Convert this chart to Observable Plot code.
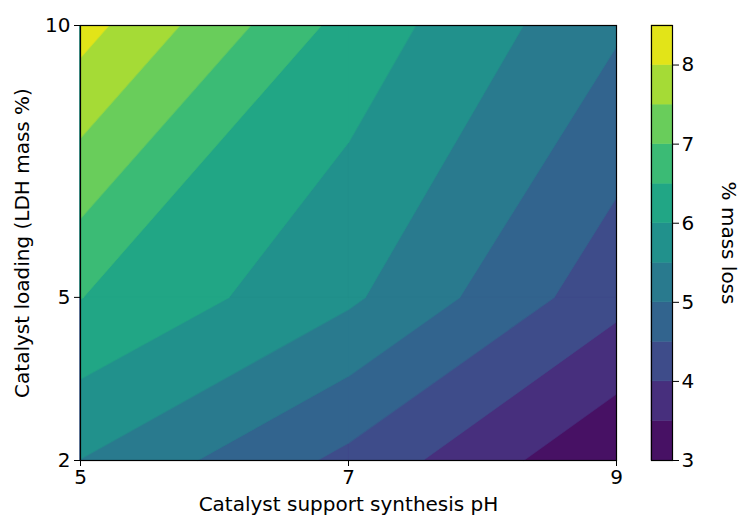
<!DOCTYPE html>
<html>
<head>
<meta charset="utf-8">
<script src="https://cdn.jsdelivr.net/npm/d3@7"></script>
<script src="https://cdn.jsdelivr.net/npm/@observablehq/plot@0.6"></script>
<style>
  html, body { margin: 0; padding: 0; background: #fff; }
  #wrap { display: flex; flex-direction: row; width: 740px; height: 521px; }
  #wrap svg g[aria-label$="tick label"],
  #wrap svg g[aria-label$="tick label"] text { font-size: 20px !important; }
</style>
</head>
<body>
<div id="wrap"></div>
<script>
// ---- data ----
const pH = [5, 7, 9];                 // Catalyst support synthesis pH
const loading = [2, 5, 10];           // Catalyst loading (LDH mass %)
const lossAtLoading2  = [5.49, 4.37, 3.04];
const lossAtLoading5  = [6.51, 5.59, 4.17];
const lossAtLoading10 = [8.20, 6.31, 5.07];
const levels = [3, 3.5, 4, 4.5, 5, 5.5, 6, 6.5, 7, 7.5, 8, 8.5];
const xTicks = [5, 7, 9];
const yTicks = [2, 5, 10];
const cbTicks = [3, 4, 5, 6, 7, 8];
const xLabel = "Catalyst support synthesis pH";
const yLabel = "Catalyst loading (LDH mass %)";
const cbLabel = "% mass loss";

const grid = [lossAtLoading2, lossAtLoading5, lossAtLoading10];
const vmin = levels[0], vmax = levels[levels.length - 1];
const bandColor = k => d3.interpolateViridis(((levels[k] + levels[k + 1]) / 2 - vmin) / (vmax - vmin));

// marching squares: region value >= t within each cell, stacked per level
const polys = [];
for (let k = 0; k < levels.length - 1; k++) {
  const t = levels[k];
  const color = bandColor(k);
  for (let j = 0; j < loading.length - 1; j++) {
    for (let i = 0; i < pH.length - 1; i++) {
      const c = [
        [pH[i], loading[j], grid[j][i]],
        [pH[i + 1], loading[j], grid[j][i + 1]],
        [pH[i + 1], loading[j + 1], grid[j + 1][i + 1]],
        [pH[i], loading[j + 1], grid[j + 1][i]]
      ];
      const pts = [];
      for (let m = 0; m < 4; m++) {
        const a = c[m], b = c[(m + 1) % 4];
        const ia = a[2] >= t, ib = b[2] >= t;
        if (ia) pts.push([a[0], a[1]]);
        if (ia !== ib) {
          const f = (t - a[2]) / (b[2] - a[2]);
          pts.push([a[0] + f * (b[0] - a[0]), a[1] + f * (b[1] - a[1])]);
        }
      }
      if (pts.length >= 3) {
        const id = `${k}-${i}-${j}`;
        for (const p of pts) polys.push({x: p[0], y: p[1], id, color});
      }
    }
  }
}

const bands = d3.range(levels.length - 1).map(k => ({lo: levels[k], hi: levels[k + 1], color: bandColor(k)}));

const font = "DejaVu Sans, sans-serif";
const tickFont = 20, labelFont = 20;

const main = Plot.plot({
  width: 640, height: 521,
  marginLeft: 80, marginRight: 24, marginTop: 25, marginBottom: 61,
  x: {domain: [5, 9]},
  y: {domain: [2, 10]},
  color: {type: "identity"},
  style: {fontFamily: font, fontSize: tickFont + "px", color: "black", background: "white"},
  marks: [
    Plot.line(polys, {x: "x", y: "y", z: "id", fill: "color", stroke: "color", strokeWidth: 0.6, curve: "linear-closed"}),
    Plot.frame({stroke: "black", strokeWidth: 1.2}),
    Plot.axisX({ticks: xTicks, tickFormat: d => String(d), tickSize: 6, tickPadding: 3, label: null, fontSize: tickFont}),
    Plot.axisY({ticks: yTicks, tickFormat: d => String(d), tickSize: 6, tickPadding: 4, label: null, fontSize: tickFont}),
    Plot.text([xLabel], {text: d => d, frameAnchor: "bottom", dy: 50, fontSize: labelFont, textAnchor: "middle"}),
    Plot.text([yLabel], {text: d => d, frameAnchor: "left", rotate: -90, dx: -58, fontSize: labelFont, textAnchor: "middle"})
  ]
});

const cbar = Plot.plot({
  width: 100, height: 521,
  marginLeft: 11, marginRight: 68, marginTop: 25, marginBottom: 61,
  x: {domain: [0, 1], axis: null},
  y: {domain: [vmin, vmax]},
  color: {type: "identity"},
  style: {fontFamily: font, fontSize: tickFont + "px", color: "black", background: "white"},
  marks: [
    Plot.rect(bands, {x1: 0, x2: 1, y1: "lo", y2: "hi", fill: "color", stroke: "color", strokeWidth: 0.5}),
    Plot.frame({stroke: "black", strokeWidth: 1.2}),
    Plot.axisY({anchor: "right", ticks: cbTicks, tickFormat: d => String(d), tickSize: 6, tickPadding: 3, label: null, fontSize: tickFont}),
    Plot.text([cbLabel], {text: d => d, frameAnchor: "right", rotate: 90, dx: 56, fontSize: labelFont, textAnchor: "middle"})
  ]
});

const wrap = document.getElementById("wrap");
wrap.appendChild(main);
wrap.appendChild(cbar);
</script>
</body>
</html>
